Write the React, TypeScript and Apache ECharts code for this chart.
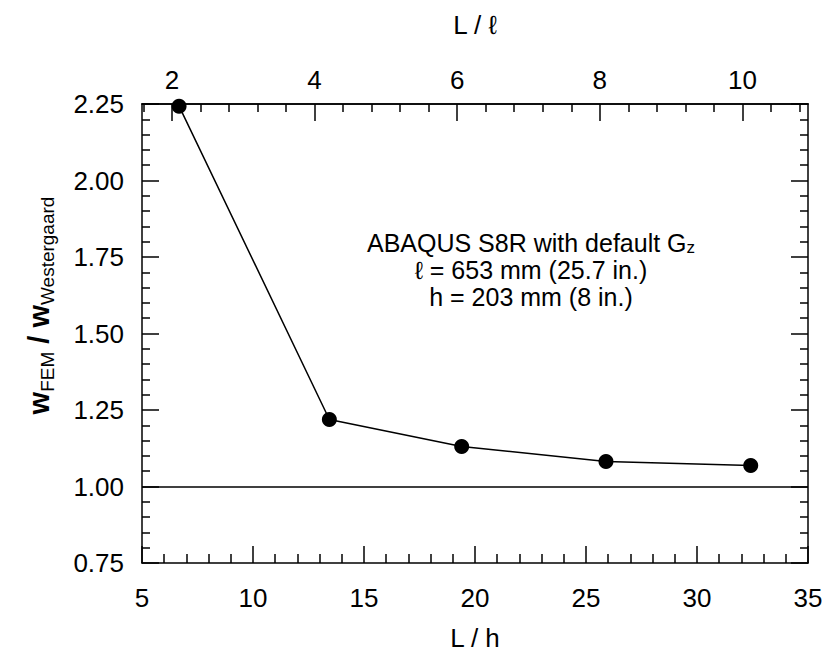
import React, { useEffect, useRef } from "react";
import * as echarts from "echarts";

// ---- data ----
const slendernessLh = [6.67, 13.44, 19.4, 25.9, 32.42]; // L / h
const deflectionRatio = [2.243, 1.219, 1.131, 1.082, 1.069]; // w_FEM / w_Westergaard
const referenceRatio = 1.0;

const bottomMin = 5;
const bottomMax = 35;
const bottomInterval = 5;
const leftMin = 0.75;
const leftMax = 2.25;
const leftInterval = 0.25;

// top axis L / ℓ  (ℓ = 653 mm, h = 203 mm)
const topMin = 1.58;
const topMax = 10.92;
const topMajorValues = [2, 4, 6, 8, 10];
const topMinorValues = [1.6, 2.4, 2.8, 3.2, 3.6, 4.4, 4.8, 5.2, 5.6, 6.4, 6.8, 7.2, 7.6, 8.4, 8.8, 9.2, 9.6, 10.4, 10.8];

const annotationLine1 = "ABAQUS S8R with default G";
const annotationSub1 = "z";
const annotationLine2 = "\u2113 = 653 mm (25.7 in.)";
const annotationLine3 = "h = 203 mm (8 in.)";

const FONT = "'Liberation Sans', Arial, Helvetica, sans-serif";
const BLACK = "#000";

export default function App() {
  const ref = useRef<HTMLDivElement | null>(null);

  useEffect(() => {
    document.body.style.margin = "0";
    if (!ref.current) return;
    const chart = echarts.init(ref.current, undefined, { renderer: "svg" });

    const line = { color: BLACK, width: 1.5 };
    const labelStyle = { fontSize: 26, color: BLACK, fontFamily: FONT };

    const option: any = {
      animation: false,
      backgroundColor: "#fff",
      grid: { left: 142, right: 18, top: 104, bottom: 95, containLabel: false },
      xAxis: [
        {
          type: "value",
          position: "bottom",
          min: bottomMin,
          max: bottomMax,
          interval: bottomInterval,
          name: "L / h",
          nameLocation: "middle",
          nameGap: 62,
          nameTextStyle: { fontSize: 26, color: BLACK, fontFamily: FONT },
          axisLine: { show: true, onZero: false, lineStyle: line },
          axisTick: { show: true, inside: true, length: 17, lineStyle: line },
          minorTick: { show: true, splitNumber: 5, length: 9, lineStyle: line },
          axisLabel: { ...labelStyle, margin: 22 },
          splitLine: { show: false },
          minorSplitLine: { show: false },
        },
        {
          type: "value",
          position: "top",
          min: topMin,
          max: topMax,
          name: "L / \u2113",
          nameLocation: "middle",
          nameGap: 66,
          nameTextStyle: { fontSize: 26, color: BLACK, fontFamily: FONT },
          axisLine: { show: true, onZero: false, lineStyle: line },
          axisTick: { show: true, inside: true, length: 17, lineStyle: line, customValues: topMajorValues },
          axisLabel: { ...labelStyle, margin: 11, customValues: topMajorValues },
          splitLine: { show: false },
        },
        {
          type: "value",
          position: "top",
          min: topMin,
          max: topMax,
          axisLine: { show: true, onZero: false, lineStyle: line },
          axisTick: { show: true, inside: true, length: 8, lineStyle: line, customValues: topMinorValues },
          axisLabel: { show: false },
          splitLine: { show: false },
        },
      ],
      yAxis: [
        {
          type: "value",
          position: "left",
          min: leftMin,
          max: leftMax,
          interval: leftInterval,
          name: "{w|w}{s|FEM}{w| / w}{s|Westergaard}",
          nameLocation: "middle",
          nameRotate: 90,
          nameGap: 85,
          nameTextStyle: {
            color: BLACK,
            fontFamily: FONT,
            padding: [0, 0, 0, 56],
            rich: {
              w: { fontSize: 29, fontWeight: "bold", lineHeight: 36, fontFamily: FONT, color: BLACK },
              s: { fontSize: 19, lineHeight: 16, verticalAlign: "bottom", fontFamily: FONT, color: BLACK },
            },
          },
          axisLine: { show: true, onZero: false, lineStyle: line },
          axisTick: { show: true, inside: true, length: 17, lineStyle: line },
          minorTick: { show: true, splitNumber: 5, length: 8, lineStyle: line },
          axisLabel: { ...labelStyle, margin: 18, formatter: (v: number) => v.toFixed(2) },
          splitLine: { show: false },
          minorSplitLine: { show: false },
        },
        {
          type: "value",
          position: "right",
          min: leftMin,
          max: leftMax,
          interval: leftInterval,
          axisLine: { show: true, onZero: false, lineStyle: line },
          axisTick: { show: true, inside: true, length: 17, lineStyle: line },
          minorTick: { show: true, splitNumber: 5, length: 8, lineStyle: line },
          axisLabel: { show: false },
          splitLine: { show: false },
          minorSplitLine: { show: false },
        },
      ],
      series: [
        {
          type: "line",
          xAxisIndex: 0,
          yAxisIndex: 0,
          data: slendernessLh.map((x, i) => [x, deflectionRatio[i]]),
          symbol: "circle",
          symbolSize: 15,
          lineStyle: { color: BLACK, width: 1.5 },
          itemStyle: { color: BLACK },
          z: 5,
          markLine: {
            silent: true,
            symbol: "none",
            label: { show: false },
            lineStyle: { color: BLACK, width: 1.5, type: "solid" },
            data: [{ yAxis: referenceRatio }],
          },
        },
      ],
      graphic: [
        {
          type: "text",
          x: 531,
          y: 229,
          style: {
            text:
              "{a|" + annotationLine1 + "}{z|" + annotationSub1 + "}\n{a|" + annotationLine2 + "}\n{a|" + annotationLine3 + "}",
            align: "center",
            verticalAlign: "top",
            fill: BLACK,
            font: "25px " + FONT,
            rich: {
              a: { fontSize: 25, lineHeight: 27, fontFamily: FONT, fill: BLACK, align: "center" },
              z: { fontSize: 17, lineHeight: 12, verticalAlign: "bottom", fontFamily: FONT, fill: BLACK },
            },
          },
        },
      ],
    };

    chart.setOption(option);
    return () => chart.dispose();
  }, []);

  return (
    <div
      ref={ref}
      style={{ position: "absolute", left: 0, top: 0, width: 826, height: 658, background: "#fff" }}
    />
  );
}
